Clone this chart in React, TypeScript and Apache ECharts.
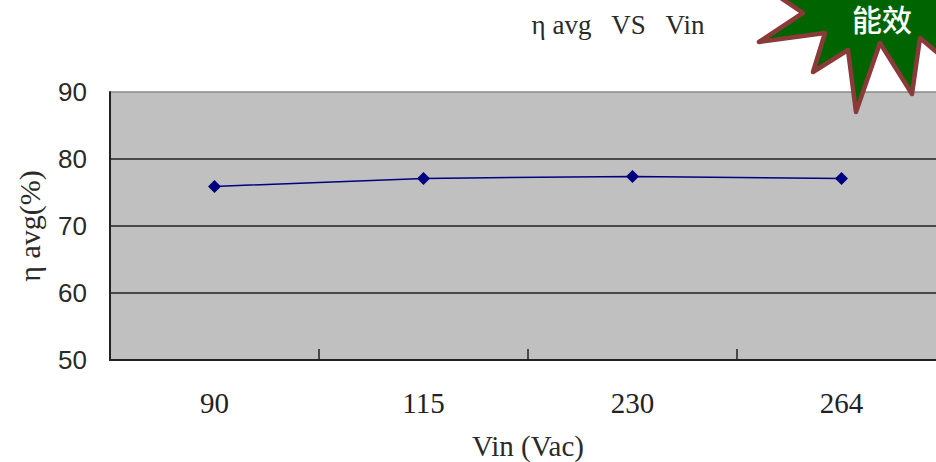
import React, { useEffect, useRef } from "react";
import * as echarts from "echarts";

const categories = ["90", "115", "230", "264"];
const efficiency = [75.9, 77.1, 77.4, 77.1];
const yMin = 50;
const yMax = 90;
const yStep = 10;
const titleText = "η avg   VS   Vin";
const xName = "Vin (Vac)";
const yName = "η avg(%)";
const badgeText = "能效";
const serifFont = "'Liberation Serif', 'Noto Sans CJK SC', serif";

export default function App() {
  const ref = useRef<HTMLDivElement>(null);
  useEffect(() => {
    const chart = echarts.init(ref.current!, null, { renderer: "svg" });
    chart.setOption({
      animation: false,
      backgroundColor: "#ffffff",
      title: {
        text: titleText,
        left: 613,
        top: 6,
        textAlign: "center",
        textStyle: { fontFamily: serifFont, fontSize: 27, fontWeight: "normal", color: "#2a2a2a" },
      },
      grid: {
        left: 110,
        right: -10,
        top: 92,
        bottom: 102,
        outerBoundsMode: "none",
        backgroundColor: "#c0c0c0",
        show: true,
        borderWidth: 0,
      },
      xAxis: {
        type: "category",
        data: categories,
        boundaryGap: true,
        name: xName,
        nameLocation: "middle",
        nameGap: 71,
        nameTextStyle: { fontFamily: serifFont, fontSize: 29, color: "#2a2a2a" },
        axisLine: { show: true, lineStyle: { color: "#222222", width: 2 } },
        axisTick: { show: true, inside: true, length: 11, alignWithLabel: false, lineStyle: { color: "#222222", width: 1.5 } },
        axisLabel: { margin: 28, fontFamily: serifFont, fontSize: 29, color: "#222222" },
      },
      yAxis: {
        type: "value",
        min: yMin,
        max: yMax,
        interval: yStep,
        name: yName,
        nameLocation: "middle",
        nameGap: 66,
        nameRotate: 90,
        nameTextStyle: { fontFamily: serifFont, fontSize: 30, color: "#2a2a2a" },
        axisLine: { show: true, lineStyle: { color: "#222222", width: 2 } },
        axisTick: { show: false },
        axisLabel: { margin: 23, fontFamily: "'Liberation Sans', Arial, sans-serif", fontSize: 26, color: "#2a2a2a" },
        splitLine: {
          show: true,
          lineStyle: { color: ["#222222", "#222222", "#222222", "#222222", "#888888"], width: 1.5 },
        },
      },
      series: [
        {
          type: "line",
          data: efficiency,
          symbol: "diamond",
          symbolSize: 13,
          showSymbol: true,
          lineStyle: { color: "#000080", width: 1.5 },
          itemStyle: { color: "#000080" },
        },
      ],
      graphic: [
        {
          type: "polygon",
          z: 100,
          shape: {
            points: [
              [775, -6], [803, 13], [759, 42], [825, 33], [813, 72], [848, 50], [856, 112],
              [880, 43], [912, 94], [920, 38], [946, 60], [946, -6],
            ],
          },
          style: { fill: "#006400", stroke: "#8b3a3a", lineWidth: 4.5, lineJoin: "round" },
        },
        {
          type: "text",
          z: 101,
          x: 882,
          y: 18,
          style: {
            text: badgeText,
            fill: "#ffffff",
            fontFamily: "'Noto Sans CJK SC', sans-serif",
            fontSize: 30,
            fontWeight: 500,
            align: "center",
            verticalAlign: "middle",
          },
        },
      ],
    });
    return () => chart.dispose();
  }, []);
  return (
    <div
      ref={ref}
      style={{ position: "fixed", left: 0, top: 0, width: 936, height: 462, overflow: "hidden" }}
    />
  );
}
